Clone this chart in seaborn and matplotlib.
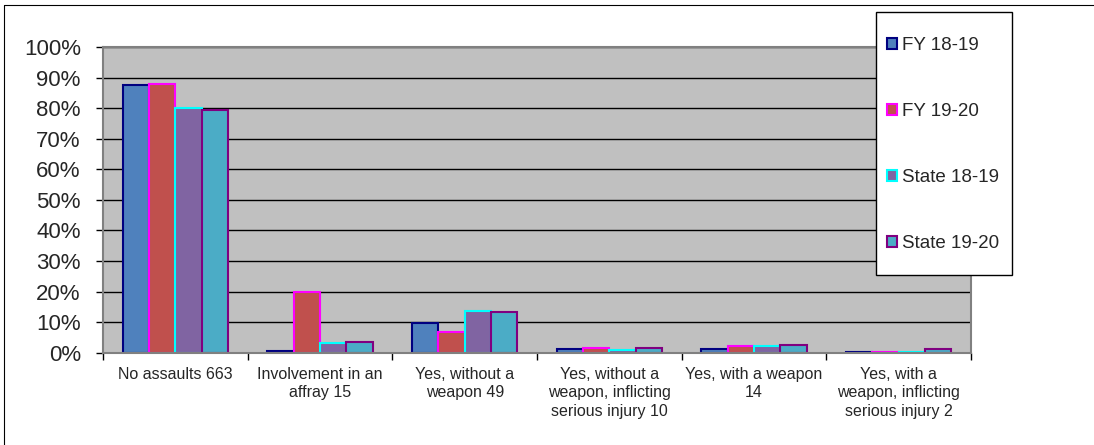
import matplotlib
matplotlib.use('Agg')
import matplotlib.pyplot as plt
import matplotlib.ticker as mticker
from matplotlib.patches import Rectangle
from matplotlib.lines import Line2D
import pandas as pd
import seaborn as sns

# values (fractions of each group)
categories = [
    'No assaults 663',
    'Involvement in an\naffray 15',
    'Yes, without a\nweapon 49',
    'Yes, without a\nweapon, inflicting\nserious injury 10',
    'Yes, with a weapon\n14',
    'Yes, with a\nweapon, inflicting\nserious injury 2',
]
series = ['FY 18-19', 'FY 19-20', 'State 18-19', 'State 19-20']
fy_18_19 = [0.875, 0.005, 0.098, 0.012, 0.013, 0.003]
fy_19_20 = [0.880, 0.199, 0.067, 0.014, 0.022, 0.003]
state_18_19 = [0.799, 0.033, 0.136, 0.009, 0.021, 0.003]
state_19_20 = [0.793, 0.036, 0.133, 0.015, 0.024, 0.011]

fill_colors = ['#4F81BD', '#C0504D', '#8064A2', '#4BACC6']
edge_colors = ['#000080', '#FF00FF', '#00FFFF', '#800080']

df = pd.DataFrame({
    'Category': categories * 4,
    'Series': [s for s in series for _ in categories],
    'Value': fy_18_19 + fy_19_20 + state_18_19 + state_19_20,
})

sns.set_style('white')
plt.rcParams['font.family'] = ['Liberation Sans', 'DejaVu Sans']

fig = plt.figure(figsize=(10.94, 4.45), dpi=100)
ax = fig.add_axes([103 / 1094, 1 - 352.7 / 445, 868 / 1094, 305.7 / 445])

sns.barplot(data=df, x='Category', y='Value', hue='Series', order=categories,
            hue_order=series, palette=fill_colors, saturation=1, width=0.73,
            gap=0, errorbar=None, legend=False, ax=ax)

for cont, ec in zip(ax.containers, edge_colors):
    for bar in cont:
        bar.set_edgecolor(ec)
        bar.set_linewidth(1.5)

ax.set_facecolor('#C0C0C0')
ax.set_xlim(-0.5, 5.5)
ax.set_ylim(0, 1)
ax.yaxis.set_major_locator(mticker.MultipleLocator(0.1))
ax.yaxis.set_major_formatter(mticker.PercentFormatter(1.0, decimals=0))
ax.grid(axis='y', color='black', lw=1)
ax.set_axisbelow(True)
ax.tick_params(axis='y', length=5, width=1, color='black', labelsize=16,
               pad=11, direction='out', left=True)

ax.set_xticks(range(len(categories)))
ax.set_xticklabels(categories, fontsize=11.5, linespacing=1.32)
ax.tick_params(axis='x', which='major', length=0, pad=10)
ax.set_xticks([i - 0.5 for i in range(len(categories) + 1)], minor=True)
ax.tick_params(axis='x', which='minor', length=5, width=1, color='black',
               direction='out', bottom=True)
ax.set_xlabel('')
ax.set_ylabel('')

for side in ['left', 'right', 'top', 'bottom']:
    ax.spines[side].set_color('#808080')
    ax.spines[side].set_linewidth(1.5)

# legend box
fig.add_artist(Rectangle((876 / 1094, 1 - 275 / 445), 136 / 1094, 263 / 445,
                         transform=fig.transFigure, fc='white', ec='black', lw=1))
handles = [Rectangle((0, 0), 1, 1, fc=fc, ec=ec, lw=1.5)
           for fc, ec in zip(fill_colors, edge_colors)]
fig.legend(handles, series, loc='upper left',
           bbox_to_anchor=(887 / 1094, 1 - 37 / 445), frameon=False,
           fontsize=13.5, handlelength=0.55, handleheight=0.55,
           handletextpad=0.25, labelspacing=2.62, borderpad=0, borderaxespad=0)

# outer chart border
fig.add_artist(Line2D([3.5 / 1094, 3.5 / 1094], [0, 1 - 4.5 / 445],
                      transform=fig.transFigure, color='black', lw=0.8))
fig.add_artist(Line2D([3.5 / 1094, 1], [1 - 4.5 / 445, 1 - 4.5 / 445],
                      transform=fig.transFigure, color='black', lw=0.8))

fig.savefig('out.png', dpi=100)
